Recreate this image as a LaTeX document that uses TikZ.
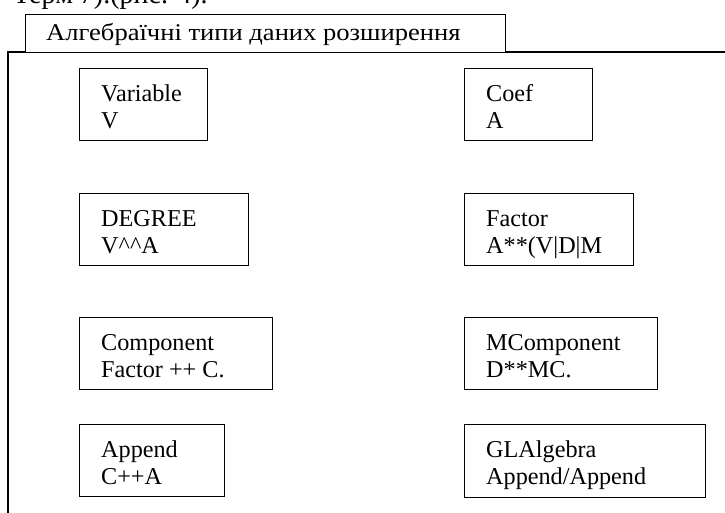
\documentclass[tikz,border=0pt]{standalone}
\usepackage{fontspec}
\setmainfont{Liberation Serif}
\newfontfamily\widefont[FakeStretch=1.107]{Liberation Serif}
\usetikzlibrary{calc}
\tikzset{
  box/.style={draw=black, line width=1.3pt, fill=white, anchor=north west, inner sep=0pt, minimum height=72pt},
  txt/.style={anchor=base west, inner sep=0pt, font=\fontsize{24.2}{27}\selectfont},
  frame/.style={draw=black, line width=1.3pt}
}
\newcommand{\twol}[2]{\begin{tabular}[t]{@{}l@{}}#1\\#2\end{tabular}}
\begin{document}
\begin{tikzpicture}[x=1pt,y=-1pt]
\useasboundingbox (0,0) rectangle (725,512);
% top cut-off text
\node[txt, font=\fontsize{28}{30}\selectfont] (cap) at (13,3) {Терм 7).(рис. 4).};
% outer frame
\coordinate (fbl) at (8,520);
\coordinate (ftr) at (726,52);
\draw[frame] (fbl) |- (ftr);
% title
\node[box, minimum width=480pt, minimum height=38pt] (title) at (25,14) {};
\node[txt, font=\widefont\fontsize{24}{27}\selectfont] (titletext) at ($(title.north west)+(21,26)$) {Алгебраїчні типи даних розширення};
% boxes
\node[box, minimum width=128pt] (var) at (79,68) {};
\node[txt] (vart) at ($(var.north west)+(22,33)$) {\twol{Variable}{V}};
\node[box, minimum width=128pt] (coef) at (464,68) {};
\node[txt] (coeft) at ($(coef.north west)+(22,33)$) {\twol{Coef}{A}};
\node[box, minimum width=169pt] (deg) at (79,193) {};
\node[txt] (degt) at ($(deg.north west)+(22,33)$) {\twol{DEGREE}{V\^{}\^{}A}};
\node[box, minimum width=169pt] (fac) at (464,193) {};
\node[txt] (fact) at ($(fac.north west)+(22,33)$) {\twol{Factor}{A**(V|D|M}};
\node[box, minimum width=193pt] (comp) at (79,317) {};
\node[txt] (compt) at ($(comp.north west)+(22,33)$) {\twol{Component}{Factor ++ C.}};
\node[box, minimum width=193pt] (mcomp) at (464,317) {};
\node[txt] (mcompt) at ($(mcomp.north west)+(22,33)$) {\twol{MComponent}{D**MC.}};
\node[box, minimum width=145pt] (app) at (79,424) {};
\node[txt] (appt) at ($(app.north west)+(22,33)$) {\twol{Append}{C++A}};
\node[box, minimum width=241pt, minimum height=73pt] (gla) at (464,424) {};
\node[txt] (glat) at ($(gla.north west)+(22,33)$) {\twol{GLAlgebra}{Append/Append}};
\end{tikzpicture}
\end{document}
